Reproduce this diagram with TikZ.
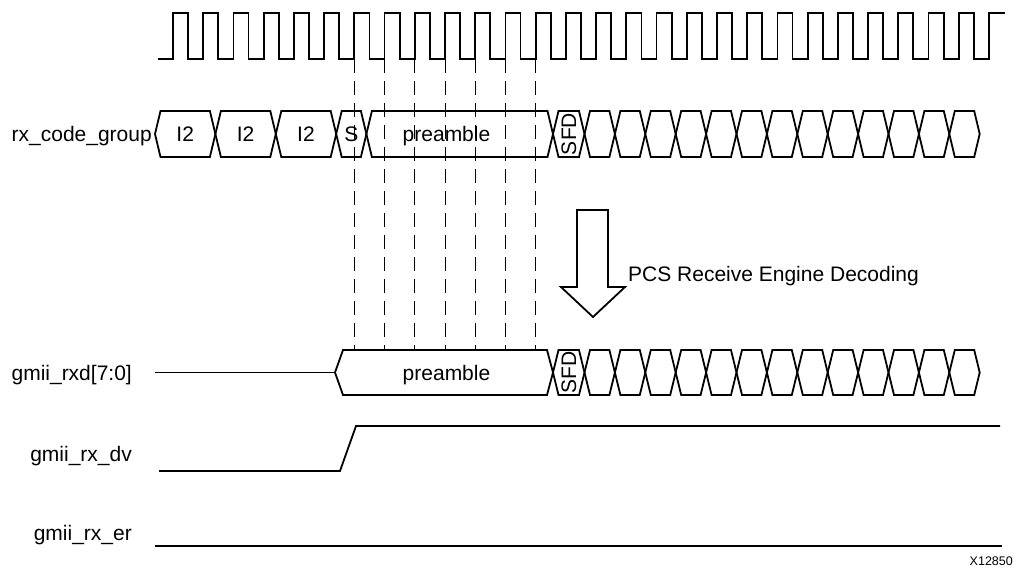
\documentclass[tikz,border=0pt]{standalone}
\usepackage{fontspec}
\setmainfont{Liberation Sans}
\begin{document}
\begin{tikzpicture}[x=1pt,y=-1pt,
  wave/.style={line width=1.8pt, line join=miter, line cap=butt},
  dashline/.style={line width=0.8pt, dash pattern=on 14pt off 8pt},
  lbl/.style={font=\fontsize{21}{25}\selectfont, inner sep=0pt},
  small/.style={font=\fontsize{12.5}{15}\selectfont, inner sep=0pt},
  bigarrow/.style={line width=1.8pt, line join=miter, fill=white}]
\useasboundingbox (0,0) rectangle (1015,573);

% clock
\draw[wave] (158,59) \foreach \k in {0,...,26} { -- ({173+30.22*\k},59) -- ({173+30.22*\k},13) -- ({188.1+30.22*\k},13) -- ({188.1+30.22*\k},59) } -- (989,59) -- (989,13) -- (1005,13);

% dashed alignment lines
\foreach \k in {6,...,12} \draw[dashline] ({173+30.22*\k},59) -- ({173+30.22*\k},350);

% rx_code_group bus
\foreach \a/\b in {155/215.4, 215.4/275.8, 275.8/336.2, 336.2/366.4, 366.4/553, 553/584.5, 584.5/614.9, 614.9/645.3, 645.3/675.7, 675.7/706.1, 706.1/736.5, 736.5/766.9, 766.9/797.3, 797.3/827.7, 827.7/858.1, 858.1/888.5, 888.5/918.9, 918.9/949.3, 949.3/979.7}
  \draw[wave] (\a,134) -- ({\a+5.5},111) -- ({\b-5.5},111) -- (\b,134) -- ({\b-5.5},157) -- ({\a+5.5},157) -- cycle;

\node[lbl, anchor=base east] (lrx) at (152,141.5) {rx\_code\_group};
\node[lbl, anchor=base] (i2a) at (185.2,141.5) {I2};
\node[lbl, anchor=base] (i2b) at (245.6,141.5) {I2};
\node[lbl, anchor=base] (i2c) at (306,141.5) {I2};
\node[lbl, anchor=base] (s) at (351.3,141.5) {S};
\node[lbl, anchor=base] (pre1) at (446.5,141.5) {preamble};
\node[lbl, rotate=90] (sfd1) at (569,134) {SFD};

% gmii_rxd bus
\draw[wave] (155,372.5) -- (335,372.5);
\draw[wave] (335,372.5) -- (343,350) -- (547,350) -- (553,372.5) -- (547,395) -- (343,395) -- cycle;
\foreach \a/\b in {553/584.5, 584.5/614.9, 614.9/645.3, 645.3/675.7, 675.7/706.1, 706.1/736.5, 736.5/766.9, 766.9/797.3, 797.3/827.7, 827.7/858.1, 858.1/888.5, 888.5/918.9, 918.9/949.3, 949.3/979.7}
  \draw[wave] (\a,372.5) -- ({\a+5.5},350) -- ({\b-5.5},350) -- (\b,372.5) -- ({\b-5.5},395) -- ({\a+5.5},395) -- cycle;
\node[lbl, anchor=base east] (lrxd) at (132,380.5) {gmii\_rxd[7:0]};
\node[lbl, anchor=base] (pre2) at (446.5,380.5) {preamble};
\node[lbl, rotate=90] (sfd2) at (569,372.5) {SFD};

% decoding arrow
\draw[bigarrow] (577,210) -- (608,210) -- (608,287) -- (625,287) -- (593,317) -- (561,287) -- (577,287) -- cycle;
\node[lbl, anchor=base west] (pcs) at (628,281.5) {PCS Receive Engine Decoding};

% gmii_rx_dv
\node[lbl, anchor=base east] (ldv) at (132,461.5) {gmii\_rx\_dv};
\draw[wave] (159,471) -- (340,471) -- (356,426) -- (1000,426);

% gmii_rx_er
\node[lbl, anchor=base east] (ler) at (132,540) {gmii\_rx\_er};
\draw[wave] (155,546) -- (1002,546);

\node[small, anchor=base east] (fig) at (1013,565) {X12850};
\end{tikzpicture}
\end{document}
